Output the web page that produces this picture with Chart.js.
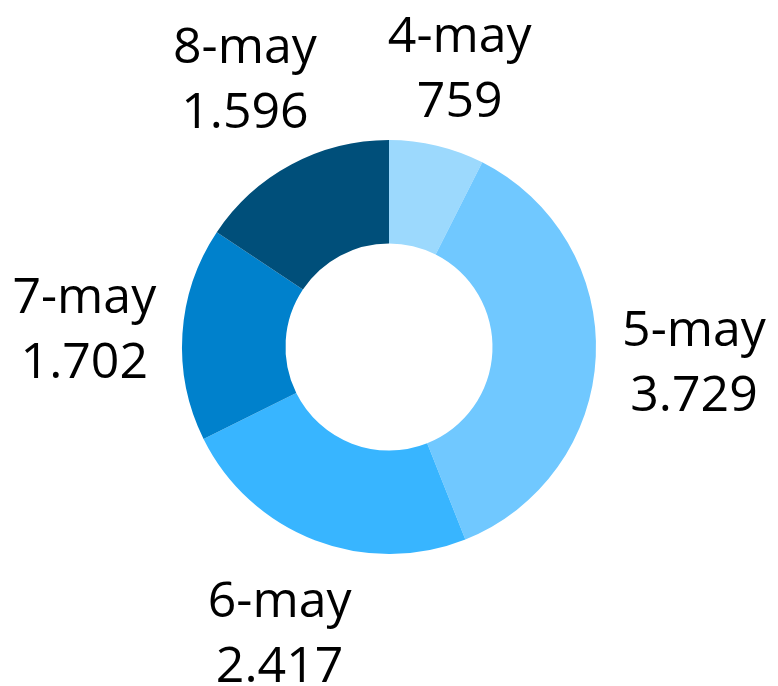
<!DOCTYPE html>
<html lang="es">
<head>
    <meta charset="UTF-8">
    <title>Doughnut</title>
    <script src="https://cdn.jsdelivr.net/npm/chart.js"></script>
    <style>
        html, body { margin:0; padding:0; background:#fff; }
        #wrap { width:778px; height:686px; }
    </style>
</head>
<body>
    <div id="wrap"><canvas id="myChart"></canvas></div>

    <script>
        // data
        const dias = ['4-may', '5-may', '6-may', '7-may', '8-may'];
        const valores = [759, 3729, 2417, 1702, 1596];
        const colores = ['#9cd9fd', '#70c8ff', '#38b5ff', '#0081cc', '#004f7a'];

        const fmt = (n) => String(n).replace(/\B(?=(\d{3})+(?!\d))/g, '.');

        // labels outside each slice, label over value
        const outsideLabels = {
            id: 'outsideLabels',
            afterDatasetsDraw(chart) {
                const ctx = chart.ctx;
                const meta = chart.getDatasetMeta(0);
                ctx.save();
                ctx.font = '50px "Open Sans"';
                ctx.fillStyle = '#000';
                ctx.textAlign = 'center';
                ctx.textBaseline = 'alphabetic';
                meta.data.forEach((arc, i) => {
                    const mid = (arc.startAngle + arc.endAngle) / 2;
                    const d = arc.outerRadius * 1.475;
                    let cx = arc.x + Math.cos(mid) * d;
                    let cy = arc.y + Math.sin(mid) * d;
                    if (cy - 50 < 17) cy = 67;
                    ctx.fillText(dias[i], cx, cy - 15);
                    ctx.fillText(fmt(valores[i]), cx, cy + 50);
                });
                ctx.restore();
            }
        };

        new Chart(document.getElementById('myChart'), {
            type: 'doughnut',
            data: {
                labels: dias,
                datasets: [{
                    data: valores,
                    backgroundColor: colores,
                    borderWidth: 0
                }]
            },
            options: {
                responsive: true,
                maintainAspectRatio: false,
                animation: false,
                cutout: '50%',
                layout: { padding: { left: 181, right: 181, top: 140, bottom: 132 } },
                plugins: {
                    legend: { display: false },
                    tooltip: { enabled: false }
                }
            },
            plugins: [outsideLabels]
        });
    </script>
</body>
</html>
